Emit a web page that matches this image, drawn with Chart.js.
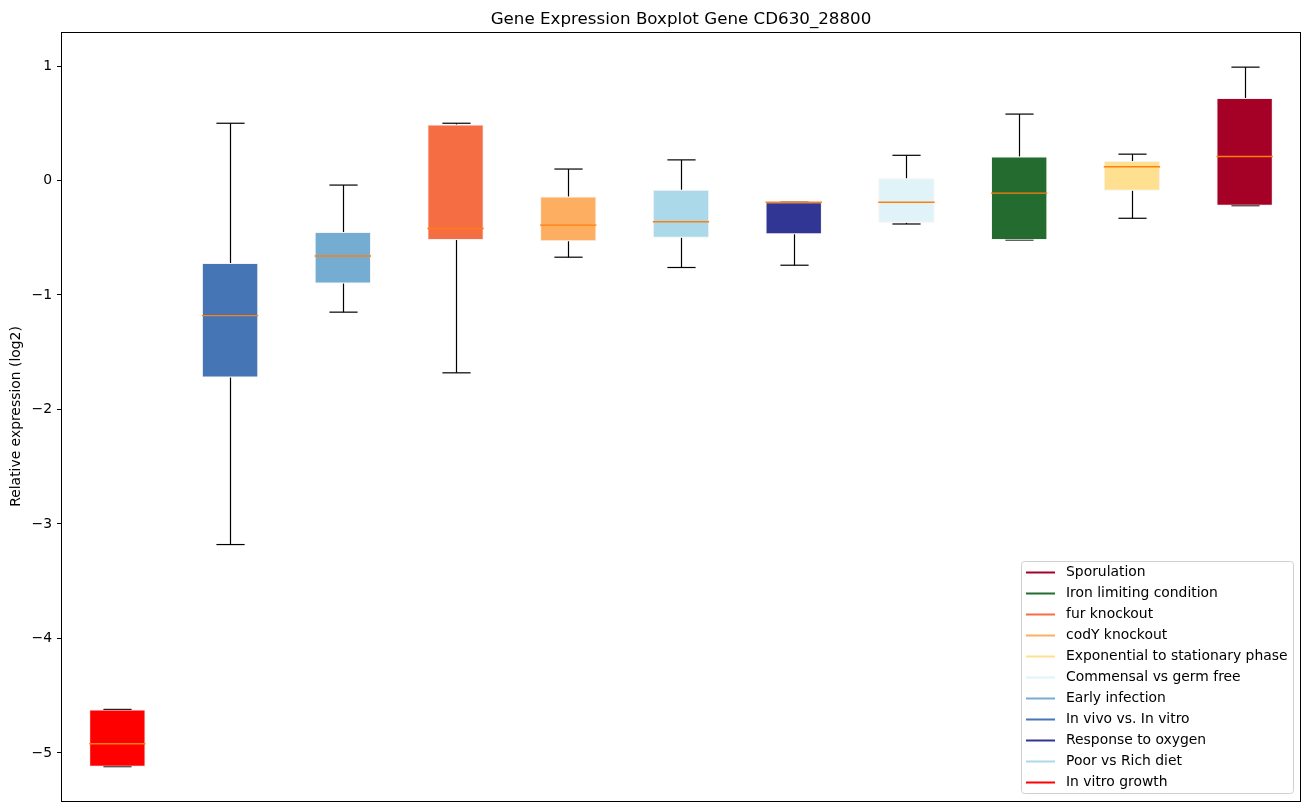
<!DOCTYPE html>
<html>
<head>
<meta charset="utf-8">
<script src="https://cdn.jsdelivr.net/npm/chart.js@4/dist/chart.umd.min.js"></script>
<style>
  html, body { margin: 0; padding: 0; background: #fff; }
  #wrap { width: 1309px; height: 812px; }
  #chart { display: block; }
</style>
</head>
<body>
<div id="wrap"><canvas id="chart"></canvas></div>
<script>
// boxes in plotting order (positions 1..11)
const groups = [
    "In vitro growth", "In vivo vs. In vitro", "Early infection", "fur knockout",
    "codY knockout", "Poor vs Rich diet", "Response to oxygen", "Commensal vs germ free",
    "Iron limiting condition", "Exponential to stationary phase", "Sporulation"
];
const whiskerLow  = [-5.12, -3.18, -1.15, -1.68, -0.67, -0.76, -0.74, -0.38, -0.52, -0.33, -0.22];
const q1Values    = [-5.12, -1.72, -0.90, -0.52, -0.53, -0.50, -0.47, -0.37, -0.52, -0.09, -0.22];
const medians     = [-4.92, -1.18, -0.66, -0.42, -0.39, -0.36, -0.19, -0.19, -0.11, 0.12, 0.21];
const q3Values    = [-4.62, -0.72, -0.45, 0.49, -0.14, -0.08, -0.19, 0.02, 0.21, 0.17, 0.72];
const whiskerHigh = [-4.62, 0.50, -0.04, 0.50, 0.10, 0.18, -0.19, 0.22, 0.58, 0.23, 0.99];
const boxColors = [
    "#ff0000", "#4575b4", "#74add1", "#f46d43", "#fdae61", "#abd9e9",
    "#313695", "#e0f3f8", "#236b2e", "#fee090", "#a50026"
];
const legendOrder = [
    "Sporulation", "Iron limiting condition", "fur knockout", "codY knockout",
    "Exponential to stationary phase", "Commensal vs germ free", "Early infection",
    "In vivo vs. In vitro", "Response to oxygen", "Poor vs Rich diet", "In vitro growth"
];
const yTicks = [-5, -4, -3, -2, -1, 0, 1];
const chartTitle = "Gene Expression Boxplot Gene CD630_28800";

const FONT = "DejaVu Sans";

function hLine(ctx, y, x, half) {
    ctx.beginPath();
    ctx.moveTo(x - half, y);
    ctx.lineTo(x + half, y);
    ctx.stroke();
}

// whiskers and caps go under the boxes
const whiskerPlugin = {
    id: "whiskers",
    beforeDatasetsDraw(chart) {
        const { ctx, scales: { x, y } } = chart;
        const half = (x.getPixelForValue(1) - x.getPixelForValue(0)) * 0.125;
        ctx.save();
        ctx.strokeStyle = "#000";
        ctx.lineWidth = 1.2;
        groups.forEach((g, i) => {
            const px = Math.round(x.getPixelForValue(i)) + 0.5;
            ctx.beginPath();
            ctx.moveTo(px, y.getPixelForValue(whiskerHigh[i]));
            ctx.lineTo(px, y.getPixelForValue(q3Values[i]));
            ctx.moveTo(px, y.getPixelForValue(q1Values[i]));
            ctx.lineTo(px, y.getPixelForValue(whiskerLow[i]));
            ctx.stroke();
            hLine(ctx, y.getPixelForValue(whiskerHigh[i]), px, half);
            hLine(ctx, y.getPixelForValue(whiskerLow[i]), px, half);
        });
        ctx.restore();
    },
    afterDatasetsDraw(chart) {
        const { ctx, chartArea, scales: { x, y } } = chart;
        const half = (x.getPixelForValue(1) - x.getPixelForValue(0)) * 0.25;
        ctx.save();
        ctx.strokeStyle = "#ff7f0e";
        ctx.lineWidth = 1.4;
        groups.forEach((g, i) => {
            hLine(ctx, y.getPixelForValue(medians[i]), x.getPixelForValue(i), half);
        });
        // frame
        ctx.strokeStyle = "#000";
        ctx.lineWidth = 1;
        ctx.strokeRect(chartArea.left + 0.5, chartArea.top + 0.5,
            chartArea.right - chartArea.left - 1, chartArea.bottom - chartArea.top);
        // title
        ctx.fillStyle = "#000";
        ctx.font = "16.7px '" + FONT + "'";
        ctx.textAlign = "center";
        ctx.textBaseline = "alphabetic";
        ctx.fillText(chartTitle, (chartArea.left + chartArea.right) / 2, chartArea.top - 8);
        ctx.restore();
    }
};

// legend drawn inside the axes, lower right
const innerLegend = {
    id: "innerLegend",
    afterDraw(chart) {
        const { ctx, chartArea } = chart;
        const rowH = 21;
        const boxW = 272;
        const boxH = rowH * legendOrder.length + 1;
        const bx = chartArea.right - 8 - boxW;
        const by = chartArea.bottom - 8 - boxH;
        ctx.save();
        ctx.fillStyle = "rgba(255,255,255,0.8)";
        ctx.strokeStyle = "#d0d0d0";
        ctx.lineWidth = 1;
        ctx.beginPath();
        ctx.roundRect(bx + 0.5, by + 0.5, boxW, boxH, 3);
        ctx.fill();
        ctx.stroke();
        ctx.font = "13.9px '" + FONT + "'";
        ctx.textBaseline = "middle";
        ctx.textAlign = "left";
        legendOrder.forEach((name, k) => {
            const cy = by + 11.5 + k * rowH;
            ctx.strokeStyle = boxColors[groups.indexOf(name)];
            ctx.lineWidth = 2;
            ctx.beginPath();
            ctx.moveTo(bx + 5, cy);
            ctx.lineTo(bx + 34, cy);
            ctx.stroke();
            ctx.fillStyle = "#000";
            ctx.fillText(name, bx + 45, cy);
        });
        ctx.restore();
    }
};

new Chart(document.getElementById("chart"), {
    type: "bar",
    data: {
        labels: groups,
        datasets: [{
            data: groups.map((g, i) => [q1Values[i], q3Values[i]]),
            backgroundColor: boxColors,
            borderColor: "rgba(235,235,235,0.6)",
            borderWidth: 1,
            borderSkipped: false,
            categoryPercentage: 1,
            barPercentage: 0.5
        }]
    },
    options: {
        responsive: true,
        maintainAspectRatio: false,
        animation: false,
        layout: { padding: { left: 0, right: 8, top: 32, bottom: 11 } },
        plugins: {
            legend: { display: false },
            title: { display: false },
            tooltip: { enabled: false }
        },
        scales: {
            x: { display: false },
            y: {
                min: -5.42,
                max: 1.297,
                afterBuildTicks(scale) {
                    scale.ticks = yTicks.map(v => ({ value: v }));
                },
                afterFit(scale) {
                    scale.width = 61;
                    scale.paddingTop = 0;
                    scale.paddingBottom = 0;
                },
                border: { display: false },
                grid: { drawOnChartArea: false, tickLength: 4, tickColor: "#000", tickWidth: 1 },
                ticks: {
                    color: "#000",
                    padding: 5,
                    font: { family: FONT, size: 13.9 },
                    callback: v => String(v).replace("-", "\u2212")
                },
                title: {
                    display: true,
                    text: "Relative expression (log2)",
                    color: "#000",
                    padding: { top: 8, bottom: 0 },
                    font: { family: FONT, size: 13.9 }
                }
            }
        }
    },
    plugins: [whiskerPlugin, innerLegend]
});
</script>
</body>
</html>
